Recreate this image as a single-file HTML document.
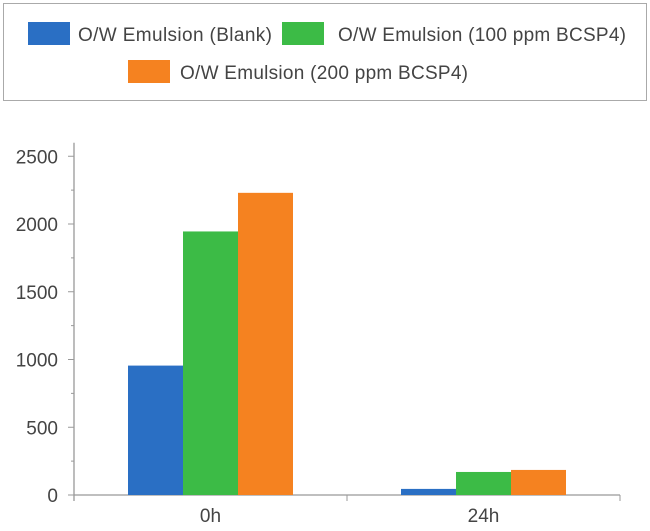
<!DOCTYPE html>
<html><head><meta charset="utf-8"><style>
body{margin:0;background:#fff;font-family:"Liberation Sans",sans-serif;}
svg text{font-family:"Liberation Sans",sans-serif;fill:#444;}
</style></head><body>
<svg width="650" height="526">
<g>
<rect x="3.5" y="3.5" width="643" height="97" fill="#fff" stroke="#aaa"/>
<rect x="28" y="22" width="42" height="23" fill="#2a6fc4"/>
<text x="78" y="41" font-size="19" textLength="194">O/W Emulsion (Blank)</text>
<rect x="282" y="22" width="42" height="23" fill="#3cbb46"/>
<text x="338" y="41" font-size="19" textLength="288">O/W Emulsion (100 ppm BCSP4)</text>
<rect x="128" y="60" width="42" height="23" fill="#f58220"/>
<text x="180" y="79" font-size="19" textLength="288">O/W Emulsion (200 ppm BCSP4)</text>
</g>
<g id="plot"></g>
</svg>
<script>
const categories=["0h","24h"];
const blank=[955,45];
const ppm100=[1945,170];
const ppm200=[2230,185];
const yTicks=[0,500,1000,1500,2000,2500];
const series=[{name:"blank",vals:blank,color:"#2a6fc4"},{name:"100ppm",vals:ppm100,color:"#3cbb46"},{name:"200ppm",vals:ppm200,color:"#f58220"}];
const NS="http://www.w3.org/2000/svg";
const g=document.getElementById("plot");
const x0=74,x1=620,y0=495,pxPer=0.1355;
const y=v=>y0-v*pxPer;
const bw=(x1-x0)/categories.length;
const cx=i=>x0+bw*(i+0.5);
function el(t,a){const e=document.createElementNS(NS,t);for(const k in a)e.setAttribute(k,a[k]);g.appendChild(e);return e;}
let ax=el("line",{x1:x0,y1:y(2600),x2:x0,y2:y0+6,stroke:"#999","stroke-width":1.3});


let bx=el("line",{x1:x0,y1:y0,x2:x1,y2:y0,stroke:"#999","stroke-width":1.3});


for(let v=0;v<=2500;v+=250){const t=el("line",{x1:x0-(v%500?3:6),y1:y(v),x2:x0,y2:y(v),stroke:"#999"});

}
yTicks.forEach(v=>{const t=el("text",{x:x0-16,y:y(v)+7,"font-size":19,"text-anchor":"end"});t.textContent=v;

});
for(let i=0;i<=categories.length;i++){const t=el("line",{x1:x0+bw*i,y1:y0,x2:x0+bw*i,y2:y0+6,stroke:"#999"});

}
const barW=55;
categories.forEach((c,i)=>{
 series.forEach((s,j)=>{const v=s.vals[i];const r=el("rect",{x:cx(i)-barW*1.5+barW*j,y:y(v),width:barW,height:y0-y(v),fill:s.color});
 
 });
 const t=el("text",{x:cx(i),y:y0+27,"font-size":19,"text-anchor":"middle"});t.textContent=c;
 
 
});
</script>
</body></html>
